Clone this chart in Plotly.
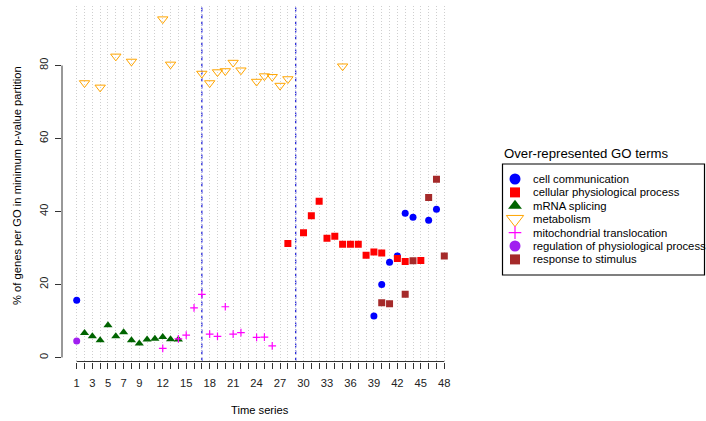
import plotly.graph_objects as go

# ---- data: % of genes per GO term in the minimum p-value partition ----
cell_comm_x = [1, 39, 40, 41, 42, 43, 44, 46, 47]
cell_comm_y = [15.7, 11.4, 20.0, 26.1, 27.8, 39.5, 38.4, 37.6, 40.6]

cell_phys_x = [28, 30, 31, 32, 33, 34, 35, 36, 37, 38, 39, 40, 42, 43, 45]
cell_phys_y = [31.2, 34.2, 38.8, 42.8, 32.7, 33.2, 31.0, 31.0, 31.0, 28.0, 28.9, 28.6, 27.1, 26.3, 26.6]

mrna_x = [2, 3, 4, 5, 6, 7, 8, 9, 10, 11, 12, 13, 14]
mrna_y = [6.7, 5.8, 4.7, 8.8, 5.8, 6.9, 4.7, 3.8, 4.9, 5.1, 5.6, 5.0, 4.9]

metab_x = [2, 4, 6, 8, 12, 13, 17, 18, 19, 20, 21, 22, 24, 25, 26, 27, 28, 35]
metab_y = [75.2, 74.0, 82.5, 81.1, 92.7, 80.3, 77.8, 75.2, 78.2, 78.5, 80.8, 78.7,
           75.6, 77.1, 76.9, 74.5, 76.3, 79.8]

mito_x = [12, 14, 15, 16, 17, 18, 19, 20, 21, 22, 24, 25, 26]
mito_y = [2.5, 5.1, 6.1, 13.6, 17.3, 6.4, 5.8, 13.9, 6.4, 6.8, 5.5, 5.6, 3.2]

reg_x = [1]
reg_y = [4.5]

resp_x = [40, 41, 43, 44, 46, 47, 48]
resp_y = [15.0, 14.7, 17.3, 26.5, 43.8, 48.8, 27.8]

go_terms = ["cell communication", "cellular physiological process", "mRNA splicing",
            "metabolism", "mitochondrial translocation",
            "regulation of physiological process", "response to stimulus"]

time_points = list(range(1, 49))
labelled_ticks = [1, 3, 5, 7, 9, 12, 15, 18, 21, 24, 27, 30, 33, 36, 39, 42, 45, 48]
y_ticks = [0, 20, 40, 60, 80]
breakpoints = [17, 29]

# ---- styles per GO term: (symbol, colour, plot size, legend size, line width) ----
styles = [
    ("circle", "#0000FF", 7, 11, 0),
    ("square", "#FF0000", 7, 10, 0),
    ("triangle-up", "#006400", 8, 12, 0),
    ("triangle-down-open", "#FFA500", 9, 15, 1),
    ("cross-thin-open", "#FF00FF", 5.5, 9, 1.2),
    ("circle", "#A020F0", 7, 11, 0),
    ("square", "#A52A2A", 7, 10, 0),
]
series = [(cell_comm_x, cell_comm_y), (cell_phys_x, cell_phys_y), (mrna_x, mrna_y),
          (metab_x, metab_y), (mito_x, mito_y), (reg_x, reg_y), (resp_x, resp_y)]

W, H = 706, 421
FONT = "Liberation Sans, Arial, Helvetica, sans-serif"


def px_x(p):
    return p / W


def px_y(p):
    return 1 - p / H


fig = go.Figure()

for name, (xs, ys), (sym, col, size, _, lw) in zip(go_terms, series, styles):
    line = dict(width=lw, color=col) if lw else dict(width=0)
    fig.add_trace(go.Scatter(
        x=xs, y=ys, mode="markers", name=name, showlegend=False,
        marker=dict(symbol=sym, color=col, size=size, line=line),
        xaxis="x", yaxis="y",
    ))

# ---- legend drawn on its own pixel-scaled axes ----
leg_left, leg_right, leg_top, leg_bottom = 502.5, 704.5, 164, 275
row0, row_step = 179.0, 13.4
sym_x, text_x = 515, 531
rows = [row0 + i * row_step for i in range(len(go_terms))]

for name, r, (sym, col, _, lsize, lw) in zip(go_terms, rows, styles):
    line = dict(width=lw, color=col) if lw else dict(width=0)
    fig.add_trace(go.Scatter(
        x=[sym_x], y=[r], mode="markers", showlegend=False, hoverinfo="skip",
        marker=dict(symbol=sym, color=col, size=lsize, line=line),
        xaxis="x2", yaxis="y2",
    ))

annotations = []
for name, r in zip(go_terms, rows):
    annotations.append(dict(
        x=text_x, y=r, xref="x2", yref="y2", text=name, showarrow=False,
        xanchor="left", yanchor="middle", font=dict(size=11.3, color="black", family=FONT),
    ))
annotations.append(dict(
    x=px_x(502), y=px_y(153), xref="paper", yref="paper", text="Over-represented GO terms",
    showarrow=False, xanchor="left", yanchor="middle",
    font=dict(size=13.2, color="black", family=FONT),
))
annotations.append(dict(
    x=px_x(260), y=px_y(410), xref="paper", yref="paper", text="Time series",
    showarrow=False, xanchor="center", yanchor="middle",
    font=dict(size=11.2, color="black", family=FONT),
))
annotations.append(dict(
    x=px_x(17), y=px_y(186), xref="paper", yref="paper",
    text="% of genes per GO in minimum p-value partition", textangle=-90,
    showarrow=False, xanchor="center", yanchor="middle",
    font=dict(size=11.2, color="black", family=FONT),
))

axis_col = "#333333"
shapes = [
    # y axis line spanning the labelled range only
    dict(type="line", xref="x domain", yref="y", x0=0, x1=0, y0=y_ticks[0], y1=y_ticks[-1],
         line=dict(color=axis_col, width=1)),
    # x axis line spanning the first to last time point
    dict(type="line", xref="x", yref="y domain", x0=time_points[0], x1=time_points[-1],
         y0=0, y1=0, line=dict(color=axis_col, width=1)),
    # legend frame
    dict(type="rect", xref="x2", yref="y2", x0=leg_left, x1=leg_right, y0=leg_top, y1=leg_bottom,
         line=dict(color="black", width=1.2), fillcolor="rgba(0,0,0,0)"),
]
for b in breakpoints:
    shapes.append(dict(type="line", xref="x", yref="y domain", x0=b, x1=b, y0=0, y1=1,
                       line=dict(color="#1818D8", width=1.2, dash="4px,3px"), layer="below"))

fig.update_layout(
    width=W, height=H, autosize=False,
    margin=dict(l=0, r=0, t=0, b=0),
    paper_bgcolor="white", plot_bgcolor="white",
    font=dict(family=FONT, size=11, color="black"),
    xaxis=dict(
        domain=[px_x(62), px_x(459)], range=[-0.88, 49.88],
        tickmode="array", tickvals=time_points,
        ticktext=[str(t) if t in labelled_ticks else "" for t in time_points],
        ticks="outside", ticklen=6, tickcolor=axis_col, tickwidth=1,
        ticklabelstandoff=5,
        showline=False, zeroline=False,
        showgrid=True, gridcolor="#CFCFCF", griddash="1px,2px", gridwidth=1,
        tickfont=dict(size=11.2, family=FONT, color="#222222"),
        fixedrange=True,
    ),
    yaxis=dict(
        domain=[px_y(361.5), px_y(6)], range=[-1.1, 96.3],
        tickmode="array", tickvals=y_ticks, ticktext=[str(v) for v in y_ticks],
        ticks="outside", ticklen=6, tickcolor=axis_col, tickwidth=1, tickangle=-90,
        ticklabelstandoff=3,
        showline=False, zeroline=False, showgrid=False,
        tickfont=dict(size=11.2, family=FONT, color="#222222"),
        fixedrange=True,
    ),
    xaxis2=dict(domain=[px_x(500), 1], range=[500, 706], visible=False, fixedrange=True),
    yaxis2=dict(domain=[px_y(280), px_y(160)], range=[280, 160], visible=False, fixedrange=True),
    shapes=shapes,
    annotations=annotations,
)

fig.write_html("out.html")
